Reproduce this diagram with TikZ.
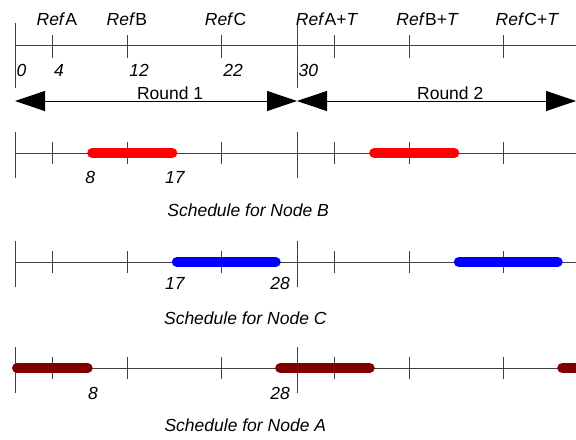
\documentclass[tikz,border=0pt]{standalone}
\usepackage{fontspec}
\setmainfont{Liberation Sans}
\usetikzlibrary{arrows.meta}

\tikzset{
  axis/.style={draw=black!75, line width=0.9pt},
  roundarrow/.style={draw=black, line width=0.9pt,
    {Triangle[length=30pt,width=20pt]}-{Triangle[length=30pt,width=20pt]}},
  slot/.style={line width=10pt, line cap=round, shorten <=2pt, shorten >=2.5pt},
  txt/.style={font=\fontsize{17.5}{20}\selectfont, inner sep=0pt},
  num/.style={txt, font=\fontsize{17.5}{20}\selectfont\itshape},
}
\definecolor{slotB}{RGB}{255,0,0}
\definecolor{slotC}{RGB}{0,0,255}
\definecolor{slotA}{RGB}{128,0,0}

\begin{document}
\begin{tikzpicture}[x=9.4pt, y=-1pt]
    \useasboundingbox (-1.596,0) rectangle (59.68,439);
    \clip (-1.596,0) rectangle (59.68,439);

    % Reference time line
    \coordinate (ref0) at (0,45);
    \coordinate (refend) at (59.68,45);
    \draw[axis] (ref0) -- (refend);
    \foreach \t in {0,30} \draw[axis] (\t,23) -- (\t,88);
    \foreach \t in {4,12,22,34,42,52} \draw[axis] (\t,35) -- (\t,58);

    \node[txt] (refA) at (4.45,19) {\textit{Ref}A};
    \node[txt] (refB) at (11.9,19) {\textit{Ref}B};
    \node[txt] (refC) at (22.4,19) {\textit{Ref}C};
    \node[txt] (refAT) at (33.2,19) {\textit{Ref}A+\textit{T}};
    \node[txt] (refBT) at (43.9,19) {\textit{Ref}B+\textit{T}};
    \node[txt] (refCT) at (54.5,19) {\textit{Ref}C+\textit{T}};

    \node[num, anchor=west] (n0) at (0.15,70) {0};
    \node[num, anchor=west] (n4) at (0.15+4,70) {4};
    \node[num, anchor=west] (n12) at (0.15+12,70) {12};
    \node[num, anchor=west] (n22) at (0.15+22,70) {22};
    \node[num, anchor=west] (n30) at (0.15+30,70) {30};

    % Rounds
    \coordinate (r1start) at (0,101);
    \coordinate (r1end) at (30,101);
    \coordinate (r2end) at (59.68,101);
    \draw[roundarrow] (r1start) -- (r1end);
    \draw[roundarrow] (r1end) -- (r2end);
    \node[txt] (round1) at (16.5,93) {Round 1};
    \node[txt] (round2) at (46.3,93) {Round 2};

    % Schedule lines
    \foreach \y in {153,262,368} {
      \draw[axis] (0,\y) -- (59.68,\y);
      \foreach \t in {0,30} \draw[axis] (\t,\y-21) -- (\t,\y+25);
      \foreach \t in {4,12,22,34,42,52} \draw[axis] (\t,\y-11) -- (\t,\y+11);
    }

    % Slots
    \draw[slot, slotB] (8,153) -- (17,153);
    \draw[slot, slotB] (38,153) -- (47,153);
    \draw[slot, slotC] (17,262) -- (28,262);
    \draw[slot, slotC] (47,262) -- (58,262);
    \draw[slot, slotA] (0,368) -- (8,368);
    \draw[slot, slotA] (28,368) -- (38,368);
    \draw[slot, slotA] (58,368) -- (68,368);

    \node[num] (b8) at (8,177) {8};
    \node[num] (b17) at (17,177) {17};
    \node[num] (c17) at (17,283) {17};
    \node[num] (c28) at (28.2,283) {28};
    \node[num] (a8) at (8.3,393) {8};
    \node[num] (a28) at (28.2,393) {28};

    \node[num] (schedB) at (24.8,210) {Schedule for Node B};
    \node[num] (schedC) at (24.5,318) {Schedule for Node C};
    \node[num] (schedA) at (24.5,425) {Schedule for Node A};
\end{tikzpicture}
\end{document}
